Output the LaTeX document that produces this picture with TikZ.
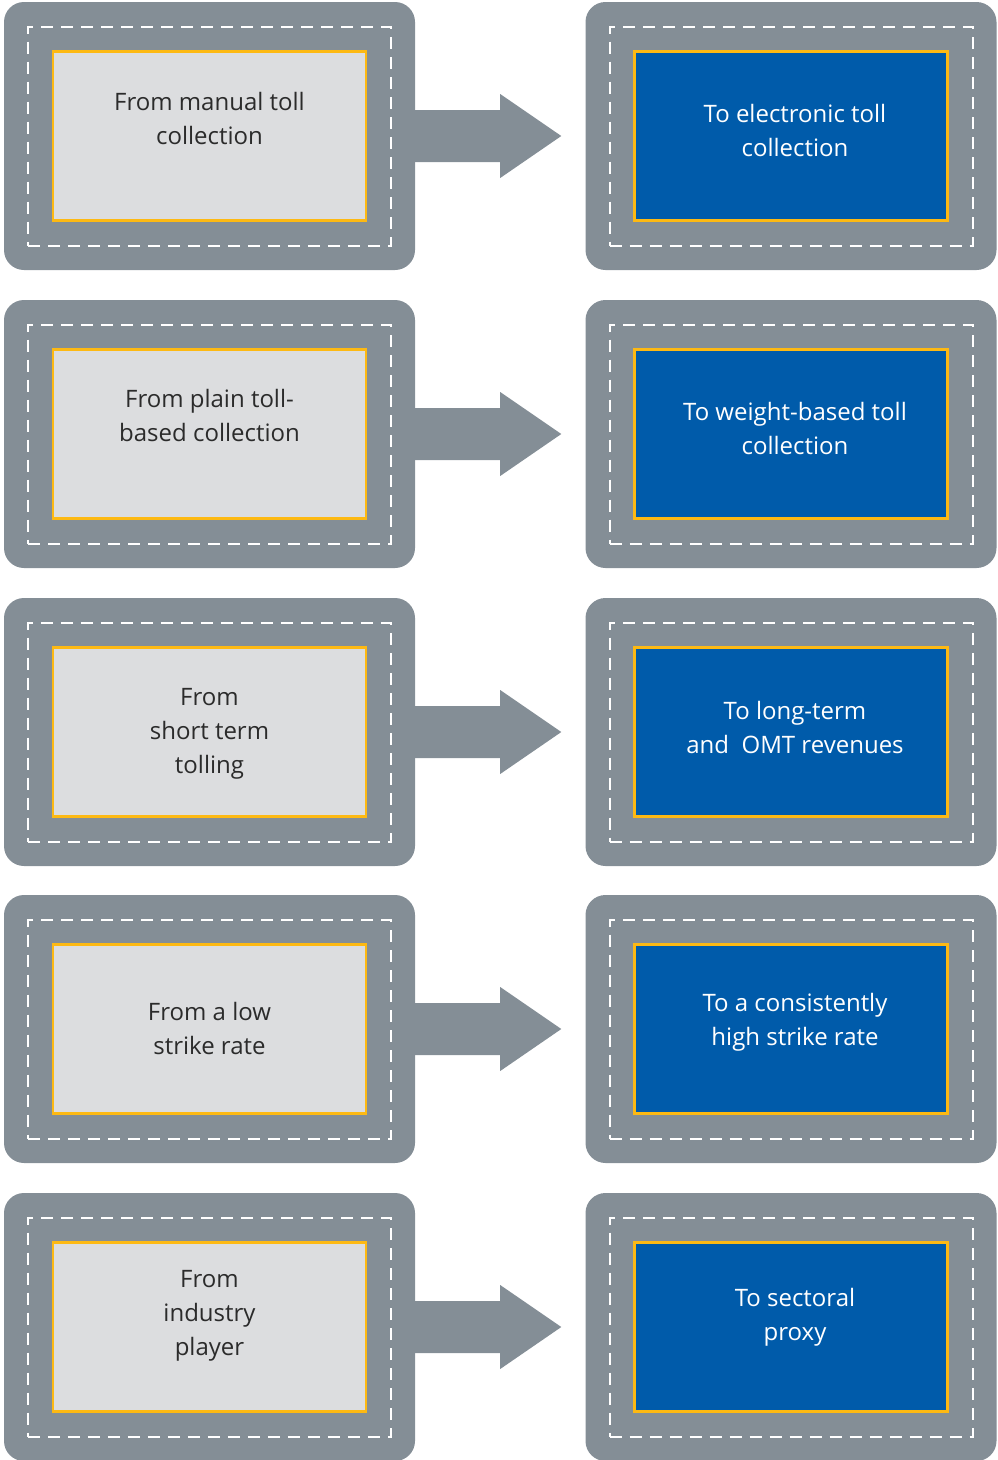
\documentclass[tikz,border=0pt]{standalone}
\usepackage{fontspec}
\setmainfont{Open Sans}
\usepackage{tikz}
\usetikzlibrary{calc}

\definecolor{roadgrey}{HTML}{848E96}
\definecolor{padgrey}{HTML}{DCDDDF}
\definecolor{tollblue}{HTML}{005BAA}
\definecolor{laneyellow}{HTML}{FDB913}
\definecolor{inkdark}{HTML}{2B2B2B}

\tikzset{
  road/.style={rectangle,rounded corners=20pt,fill=roadgrey,minimum width=411pt,minimum height=268pt,inner sep=0pt},
  lane/.style={rectangle,draw=white,line width=2pt,dash pattern=on 12pt off 8pt,minimum width=363pt,minimum height=219pt,inner sep=0pt},
  frompad/.style={rectangle,draw=laneyellow,fill=padgrey,line width=2.5pt,minimum width=313pt,minimum height=169pt,inner sep=0pt},
  topad/.style={rectangle,draw=laneyellow,fill=tollblue,line width=2.5pt,minimum width=313pt,minimum height=169pt,inner sep=0pt},
  label/.style={align=center,inner sep=0pt,font=\fontsize{24}{34}\selectfont},
}

\begin{document}
\begin{tikzpicture}[x=1pt,y=-1pt]
\useasboundingbox (0,0) rectangle (998,1460);
\foreach \i/\t/\lo/\ro/\lt/\rt in {
  1/2/-18/-6/{From manual toll\\collection}/{To electronic toll\\collection},
  2/300/-19/-6/{From plain toll-\\based collection}/{To weight-based toll\\collection},
  3/598/2/-5/{From\\short term\\tolling}/{To long-term\\and~ OMT revenues},
  4/895/-1/-7/{From a low\\strike rate}/{To a consistently\\high strike rate},
  5/1193/-11/-10/{From\\industry\\player}/{To sectoral\\proxy}}
{
  % left and right roads
  \node[road] (from\i) at (209.5,\t+134) {};
  \node[road] (to\i) at (791,\t+134) {};
  \node[lane] (fromlane\i) at (from\i.center) {};
  \node[lane] (tolane\i) at (to\i.center) {};
  \node[frompad] (frompad\i) at (from\i.center) {};
  \node[topad] (topad\i) at (to\i.center) {};
  \node[label,text=inkdark] (fromtext\i) at ($(from\i.center)+(0,\lo)$) {\lt};
  \node[label,text=white] (totext\i) at ($(to\i.center)+(4,\ro)$) {\rt};
  % arrow
  \fill[roadgrey] ($(from\i.east)+(-5,-26)$) -- ($(from\i.east)+(85,-26)$)
    -- ($(from\i.east)+(85,-42)$) -- ($(to\i.west)+(-24,0)$)
    -- ($(from\i.east)+(85,42)$) -- ($(from\i.east)+(85,26)$)
    -- ($(from\i.east)+(-5,26)$) -- cycle;
}
\end{tikzpicture}
\end{document}
